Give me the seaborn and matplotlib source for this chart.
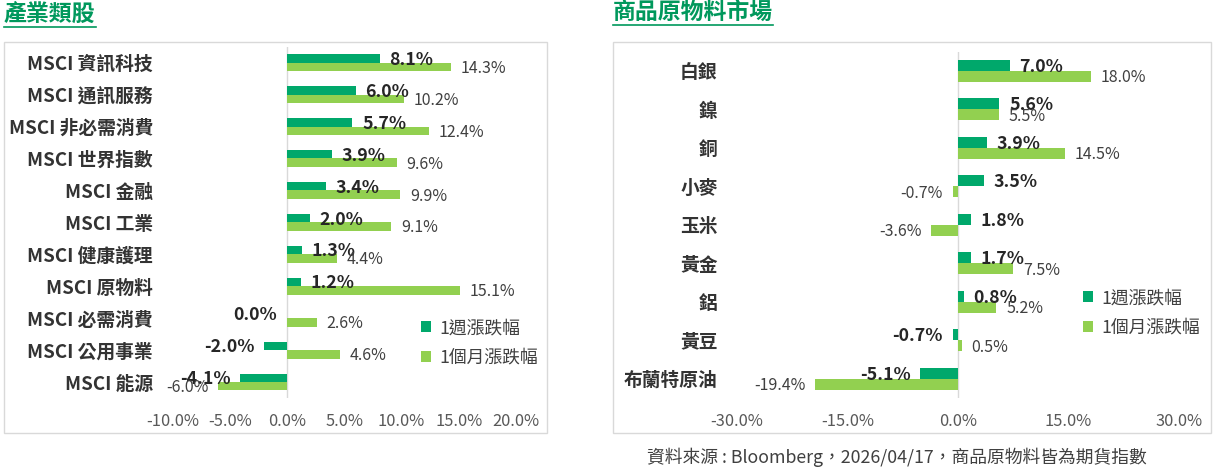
import pandas as pd
import matplotlib.pyplot as plt
import seaborn as sns
from matplotlib.patches import Rectangle
from matplotlib.lines import Line2D

# 產業類股 (左圖)
sector_names = ["MSCI 資訊科技", "MSCI 通訊服務", "MSCI 非必需消費", "MSCI 世界指數",
                "MSCI 金融", "MSCI 工業", "MSCI 健康護理", "MSCI 原物料",
                "MSCI 必需消費", "MSCI 公用事業", "MSCI 能源"]
sector_week = [8.1, 6.0, 5.7, 3.9, 3.4, 2.0, 1.3, 1.2, 0.0, -2.0, -4.1]
sector_month = [14.3, 10.2, 12.4, 9.6, 9.9, 9.1, 4.4, 15.1, 2.6, 4.6, -6.0]
sector_ticks = [-10, -5, 0, 5, 10, 15, 20]

# 商品原物料市場 (右圖)
commod_names = ["白銀", "鎳", "銅", "小麥", "玉米", "黃金", "鋁", "黃豆", "布蘭特原油"]
commod_week = [7.0, 5.6, 3.9, 3.5, 1.8, 1.7, 0.8, -0.7, -5.1]
commod_month = [18.0, 5.5, 14.5, -0.7, -3.6, 7.5, 5.2, 0.5, -19.4]
commod_ticks = [-30, -15, 0, 15, 30]

series_names = ["1週漲跌幅", "1個月漲跌幅"]
series_colors = ["#00A86B", "#92D050"]
title_color = "#00985C"
source_text = "資料來源 : Bloomberg，2026/04/17，商品原物料皆為期貨指數"

W, H = 1215, 469
plt.rcParams["font.family"] = ["Noto Sans CJK TC", "DejaVu Sans"]
fig = plt.figure(figsize=(W / 100, H / 100), dpi=100)


def fx(px):
    return px / W


def fy(py):
    return 1 - py / H


def to_long(names, week, month):
    df = pd.DataFrame({"name": names, series_names[0]: week, series_names[1]: month})
    return df.melt(id_vars="name", var_name="period", value_name="chg")


def draw_panel(rect, df, ticks, bar_width, legend_xy):
    ax = fig.add_axes(rect)
    sns.barplot(data=df, y="name", x="chg", hue="period", orient="h",
                palette=series_colors, width=bar_width, saturation=1,
                linewidth=0, errorbar=None, ax=ax)
    ax.set_xlim(ticks[0], ticks[-1])
    ax.set_xticks(ticks)
    ax.set_xticklabels([f"{t:.1f}%" for t in ticks])
    ax.set_xlabel("")
    ax.set_ylabel("")
    for s in ax.spines.values():
        s.set_visible(False)
    ax.axvline(0, color="#D9D9D9", lw=1, zorder=0)
    ax.tick_params(axis="x", length=0, labelsize=11.8, labelcolor="#595959", pad=11)
    ax.tick_params(axis="y", length=0, labelsize=13.5, labelcolor="#333333", pad=14)
    for lab in ax.get_yticklabels():
        lab.set_fontweight("bold")

    # 資料標籤
    for k, cont in enumerate(ax.containers):
        for bar in cont:
            v = bar.get_width()
            yc = bar.get_y() + bar.get_height() / 2
            pos = v > 0
            ax.annotate(f"{v:.1f}%", (v, yc), xytext=(7 if pos else -7, -1),
                        textcoords="offset points", va="center",
                        ha="left" if pos else "right",
                        fontsize=12.8 if k == 0 else 11.5,
                        fontweight="bold" if k == 0 else "normal",
                        color="#262626" if k == 0 else "#404040")

    handles, labels = ax.get_legend_handles_labels()
    ax.legend(handles, labels, loc="upper left",
              bbox_to_anchor=(fx(legend_xy[0]), fy(legend_xy[1])),
              bbox_transform=fig.transFigure, frameon=False, fontsize=12.8,
              handlelength=0.55, handleheight=0.55, handletextpad=0.5,
              labelspacing=0.65, borderpad=0, borderaxespad=0,
              labelcolor="#404040")
    return ax


# 左圖
draw_panel([fx(172.5), fy(398), fx(516 - 172.5), (398 - 46.7) / H],
           to_long(sector_names, sector_week, sector_month),
           sector_ticks, 0.53, (421, 319))
# 右圖
draw_panel([fx(737), fy(398), fx(1179 - 737), (398 - 51.7) / H],
           to_long(commod_names, commod_week, commod_month),
           commod_ticks, 0.57, (1083, 289))

# 外框
for x0, x1 in [(3.5, 546.5), (612.5, 1211)]:
    fig.add_artist(Rectangle((fx(x0), fy(432.7)), fx(x1 - x0), (432.7 - 41.7) / H,
                             transform=fig.transFigure, fill=False,
                             edgecolor="#D9D9D9", lw=1))

# 標題與底線
titles = []
titles.append(fig.text(fx(4), fy(14), "產業類股", fontsize=16.5, fontweight="bold",
                       color=title_color, va="center", ha="left"))
titles.append(fig.text(fx(613), fy(12), "商品原物料市場", fontsize=16.5, fontweight="bold",
                       color=title_color, va="center", ha="left"))
fig.canvas.draw()
r = fig.canvas.get_renderer()
for t, uy in zip(titles, [27, 25]):
    bb = t.get_window_extent(r)
    fig.add_artist(Line2D([bb.x0 / W, bb.x1 / W], [fy(uy), fy(uy)],
                          transform=fig.transFigure, color=title_color, lw=1.2))

fig.text(fx(897), fy(457), source_text, fontsize=12.8, color="#404040",
         ha="center", va="center")

fig.savefig("out.png", dpi=100)
